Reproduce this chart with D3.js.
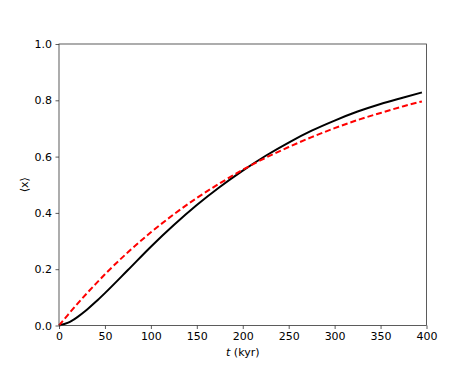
<!DOCTYPE html>
<html>
<head>
<meta charset="utf-8">
<style>
body { margin: 0; background: #fff; }
text { font-family: "DejaVu Sans", sans-serif; }
</style>
</head>
<body>
<svg id="chart" width="474" height="366"></svg>
<script src="https://cdn.jsdelivr.net/npm/d3@7"></script>
<script>

// values
var tKyr = [0, 10, 20, 30, 40, 50, 75, 100, 125, 150, 175, 200, 225, 250, 275, 300, 325, 350, 375, 395];
var xMean = [0, 0.010, 0.030, 0.055, 0.084, 0.115, 0.197, 0.280, 0.357, 0.428, 0.492, 0.550, 0.603, 0.650, 0.692, 0.728, 0.760, 0.787, 0.810, 0.828];
var xApprox = [0, 0.039, 0.077, 0.113, 0.148, 0.182, 0.26, 0.331, 0.395, 0.453, 0.505, 0.553, 0.596, 0.634, 0.669, 0.701, 0.73, 0.755, 0.779, 0.796];
var xTicks = [0, 50, 100, 150, 200, 250, 300, 350, 400];
var yTicks = [0, 0.2, 0.4, 0.6, 0.8, 1.0];

var svg = d3.select("#chart");
var pLeft = 59, pRight = 426.5, pTop = 44, pBottom = 325.5;

var x = d3.scaleLinear().domain([0, 400]).range([pLeft, pRight]);
var y = d3.scaleLinear().domain([0, 1]).range([pBottom, pTop]);

var line = d3.line().curve(d3.curveMonotoneX);

function pts(vals) {
	return tKyr.map(function(t, i) { return [x(t), y(vals[i])]; });
}

var plot = svg.append("g");
plot.append("path")
	.attr("d", line(pts(xMean)))
	.attr("fill", "none")
	.attr("stroke", "#000")
	.attr("stroke-width", 2);

plot.append("path")
	.attr("d", line(pts(xApprox)))
	.attr("fill", "none")
	.attr("stroke", "#ff0000")
	.attr("stroke-width", 2)
	.attr("stroke-dasharray", "6,3");

// frame
svg.append("rect")
	.attr("x", pLeft).attr("y", pTop)
	.attr("width", pRight - pLeft).attr("height", pBottom - pTop)
	.attr("fill", "none")
	.attr("stroke", "#333")
	.attr("stroke-width", 0.8);

var xAxis = svg.append("g")
	.attr("transform", "translate(0," + pBottom + ")")
	.call(d3.axisBottom(x).tickValues(xTicks).tickSize(3.5).tickPadding(3.5).tickFormat(d3.format("d")));
var yAxis = svg.append("g")
	.attr("transform", "translate(" + pLeft + ",0)")
	.call(d3.axisLeft(y).tickValues(yTicks).tickSize(3.5).tickPadding(3.5).tickFormat(d3.format(".1f")));

[xAxis, yAxis].forEach(function(a) {
	a.select(".domain").remove();
	a.selectAll("line").attr("stroke", "#333").attr("stroke-width", 0.8);
	a.selectAll("text").attr("font-size", 11).attr("fill", "#000").style("font-family", "DejaVu Sans");
});

var xl = svg.append("text")
	.attr("x", (pLeft + pRight) / 2)
	.attr("y", 356)
	.attr("text-anchor", "middle")
	.attr("font-size", 11);
xl.append("tspan").attr("font-style", "italic").text("t");
xl.append("tspan").text(" (kyr)");

svg.append("text")
	.attr("transform", "translate(28," + ((pTop + pBottom) / 2) + ") rotate(-90)")
	.attr("text-anchor", "middle")
	.attr("font-size", 11)
	.text("\u27e8x\u27e9");

</script>
</body>
</html>
